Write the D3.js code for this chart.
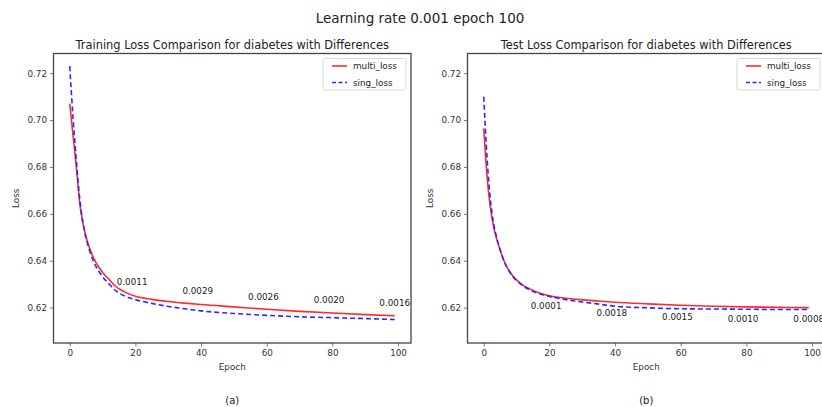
<!DOCTYPE html>
<html>
<head>
<meta charset="utf-8">
<script src="https://cdn.jsdelivr.net/npm/d3@7/dist/d3.min.js"></script>
<style>
  html, body { margin: 0; padding: 0; background: #fff; }
  svg { display: block; font-family: "DejaVu Sans", sans-serif; }
  .tick text { fill: #333; }
</style>
</head>
<body>
<svg id="chart" width="822" height="407"></svg>
<script>
const EPOCHS = [0, 1, 2, 3, 4, 5, 6, 7, 8, 9, 10, 12, 14, 17, 20, 25, 30, 35, 40, 50, 60, 70, 80, 90, 99];

const TRAIN_MULTI = [0.7070, 0.6935, 0.6800, 0.6650, 0.6560, 0.6500, 0.6455, 0.6420, 0.6392, 0.6370, 0.6350, 0.6320, 0.6290,
  0.6265, 0.6248, 0.6235, 0.6226, 0.6219, 0.6213, 0.6203, 0.6193, 0.6184, 0.6177, 0.6170, 0.6165];
const TRAIN_SING = [0.7230, 0.7010, 0.6830, 0.6670, 0.6565, 0.6495, 0.6445, 0.6405, 0.6375, 0.6352, 0.6332, 0.6300, 0.6272,
  0.6248, 0.6234, 0.6218, 0.6205, 0.6195, 0.6186, 0.6175, 0.6167, 0.6161, 0.6157, 0.6153, 0.6149];
const TEST_MULTI = [0.6965, 0.6760, 0.6630, 0.6545, 0.6490, 0.6445, 0.6405, 0.6375, 0.6352, 0.6333, 0.6318, 0.6295, 0.6280,
  0.6262, 0.6250, 0.6240, 0.6233, 0.6228, 0.6223, 0.6216, 0.6210, 0.6206, 0.6203, 0.6201, 0.6200];
const TEST_SING = [0.7100, 0.6840, 0.6665, 0.6560, 0.6495, 0.6447, 0.6405, 0.6373, 0.6349, 0.6330, 0.6315, 0.6292, 0.6276,
  0.6259, 0.6248, 0.6234, 0.6224, 0.6215, 0.6206, 0.6199, 0.6195, 0.6194, 0.6193, 0.6192, 0.6192];

// difference labels: epoch, text, and where the label sits (loss units)
const DIFF_EPOCHS = [19, 39, 59, 79, 99];
const TRAIN_DIFF_TEXT = ["0.0011", "0.0029", "0.0026", "0.0020", "0.0016"];
const TRAIN_DIFF_Y = [0.6308, 0.6271, 0.6246, 0.6232, 0.6220];
const TEST_DIFF_TEXT = ["0.0001", "0.0018", "0.0015", "0.0010", "0.0008"];
const TEST_DIFF_Y = [0.6207, 0.6177, 0.6160, 0.6153, 0.6150];

const X_TICKS = [0, 20, 40, 60, 80, 100];
const Y_TICKS = [0.62, 0.64, 0.66, 0.68, 0.70, 0.72];
const SERIES_NAMES = ["multi_loss", "sing_loss"];

const svg = d3.select("#chart");
const plotTop = 53.5;
const plotBottom = 343;
const panelWidth = 357.5;

svg.append("text")
  .attr("x", 420)
  .attr("y", 18)
  .attr("text-anchor", "middle")
  .attr("dominant-baseline", "central")
  .attr("font-size", 13.5)
  .attr("fill", "#222")
  .text("Learning rate 0.001 epoch 100");

const panels = [
  {
    left: 53.5,
    title: "Training Loss Comparison for diabetes with Differences",
    multi: TRAIN_MULTI,
    sing: TRAIN_SING,
    diffText: TRAIN_DIFF_TEXT,
    diffY: TRAIN_DIFF_Y,
    caption: "(a)"
  },
  {
    left: 467.5,
    title: "Test Loss Comparison for diabetes with Differences",
    multi: TEST_MULTI,
    sing: TEST_SING,
    diffText: TEST_DIFF_TEXT,
    diffY: TEST_DIFF_Y,
    caption: "(b)"
  }
];

panels.forEach(drawPanel);

function drawPanel(p) {
  const x = d3.scaleLinear().domain([-4.95, 103.95]).range([p.left, p.left + panelWidth]);
  const y = d3.scaleLinear().domain([0.6049, 0.7284]).range([plotBottom, plotTop]);
  const g = svg.append("g");
  const cx = p.left + panelWidth / 2;

  g.append("text")
    .attr("x", cx)
    .attr("y", 45)
    .attr("text-anchor", "middle")
    .attr("dominant-baseline", "central")
    .attr("font-size", 11.4)
    .attr("fill", "#222")
    .text(p.title);

  const xAxis = g.append("g")
    .attr("transform", `translate(0,${plotBottom})`)
    .call(d3.axisBottom(x).tickValues(X_TICKS).tickSize(3.5).tickPadding(3).tickFormat(d3.format("d")));
  const yAxis = g.append("g")
    .attr("transform", `translate(${p.left},0)`)
    .call(d3.axisLeft(y).tickValues(Y_TICKS).tickSize(3.5).tickPadding(3).tickFormat(d3.format(".2f")));
  [xAxis, yAxis].forEach(ax => {
    ax.select(".domain").remove();
    ax.selectAll(".tick line").attr("stroke", "#555").attr("stroke-width", 0.8);
    ax.selectAll(".tick text").attr("font-size", 8.8).attr("font-family", "DejaVu Sans");
  });

  g.append("rect")
    .attr("x", p.left)
    .attr("y", plotTop)
    .attr("width", panelWidth)
    .attr("height", plotBottom - plotTop)
    .attr("fill", "none")
    .attr("stroke", "#444")
    .attr("stroke-width", 1.3);

  const line = values => d3.line()
    .x((d, i) => x(EPOCHS[i]))
    .y(d => y(d))
    .curve(d3.curveMonotoneX)(values);

  g.append("path")
    .attr("d", line(p.multi))
    .attr("fill", "none")
    .attr("stroke", "#ff2a2a")
    .attr("stroke-width", 1.6);

  g.append("path")
    .attr("d", line(p.sing))
    .attr("fill", "none")
    .attr("stroke", "#2a2aff")
    .attr("stroke-width", 1.6)
    .attr("stroke-dasharray", "5,3");

  g.selectAll(".diff")
    .data(DIFF_EPOCHS.map((e, i) => ({ e, text: p.diffText[i], v: p.diffY[i] })))
    .join("text")
    .attr("class", "diff")
    .attr("x", d => x(d.e))
    .attr("y", d => y(d.v))
    .attr("text-anchor", "middle")
    .attr("dominant-baseline", "central")
    .attr("font-size", 8.8)
    .attr("fill", "#222")
    .text(d => d.text);

  g.append("text")
    .attr("transform", `translate(${p.left - 38},${(plotTop + plotBottom) / 2}) rotate(-90)`)
    .attr("text-anchor", "middle")
    .attr("dominant-baseline", "central")
    .attr("font-size", 8.8)
    .attr("fill", "#333")
    .text("Loss");

  g.append("text")
    .attr("x", cx)
    .attr("y", 367)
    .attr("text-anchor", "middle")
    .attr("dominant-baseline", "central")
    .attr("font-size", 8.8)
    .attr("fill", "#333")
    .text("Epoch");

  g.append("text")
    .attr("x", cx)
    .attr("y", 400)
    .attr("text-anchor", "middle")
    .attr("dominant-baseline", "central")
    .attr("font-size", 10)
    .attr("fill", "#222")
    .text(p.caption);

  // legend
  const lgRight = p.left + panelWidth - 5;
  const lgLeft = lgRight - 83;
  const legend = g.append("g");
  legend.append("rect")
    .attr("x", lgLeft)
    .attr("y", 58.5)
    .attr("width", lgRight - lgLeft)
    .attr("height", 31.5)
    .attr("rx", 2)
    .attr("fill", "#fff")
    .attr("stroke", "#d0d0d0")
    .attr("stroke-width", 0.8);
  SERIES_NAMES.forEach((name, i) => {
    const ly = 66 + i * 16.5;
    legend.append("line")
      .attr("x1", lgLeft + 9)
      .attr("x2", lgLeft + 24)
      .attr("y1", ly)
      .attr("y2", ly)
      .attr("stroke", i === 0 ? "#ff2a2a" : "#2a2aff")
      .attr("stroke-width", 1.6)
      .attr("stroke-dasharray", i === 0 ? null : "4,2.5");
    legend.append("text")
      .attr("x", lgLeft + 30)
      .attr("y", ly)
      .attr("dominant-baseline", "central")
      .attr("font-size", 8.8)
      .attr("fill", "#222")
      .text(name);
  });
}
</script>
</body>
</html>
